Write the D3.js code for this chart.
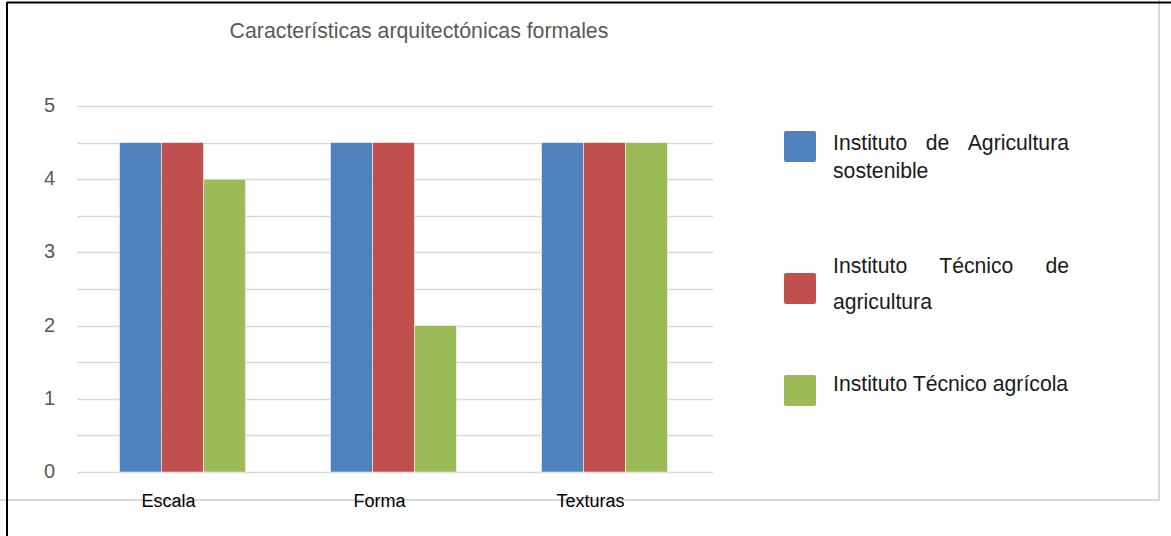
<!DOCTYPE html>
<html><head><meta charset="utf-8">
<script src="https://cdn.jsdelivr.net/npm/d3@7"></script>
<style>html,body{margin:0;padding:0;background:#fff;overflow:hidden}svg{display:block}text{font-family:"Liberation Sans",Arial,sans-serif}</style>
</head><body>
<svg id="c" width="1171" height="536"></svg>
<script>
const title = "Características arquitectónicas formales";
const categories = ["Escala", "Forma", "Texturas"];
const series = ["Instituto de Agricultura sostenible", "Instituto Técnico de agricultura", "Instituto Técnico agrícola"];
const valuesAgriculturaSostenible = [4.5, 4.5, 4.5];
const valuesTecnicoAgricultura = [4.5, 4.5, 4.5];
const valuesTecnicoAgricola = [4, 2, 4.5];
const yTicks = [0, 1, 2, 3, 4, 5];
const colors = ["#4F81BD", "#C0504D", "#9BBB59"];
// legend text lines (justified lines split into words)
const legendLines = [
  [{words:["Instituto","de","Agricultura"], justify:true},{words:["sostenible"]}],
  [{words:["Instituto","Técnico","de"], justify:true},{words:["agricultura"]}],
  [{words:["Instituto Técnico agrícola"]}]
];

const allValues = [valuesAgriculturaSostenible, valuesTecnicoAgricultura, valuesTecnicoAgricola];
const svg = d3.select("#c");

// chart area border (gray) and page border (black)
svg.append("rect").attr("x",-5).attr("y",-5).attr("width",1164).attr("height",505)
  .attr("fill","#fff").attr("stroke","#d9d9d9").attr("stroke-width",2);
svg.append("line").attr("x1",7).attr("x2",1171).attr("y1",2.5).attr("y2",2.5).attr("stroke","#000").attr("stroke-width",2);
svg.append("line").attr("x1",7).attr("x2",7).attr("y1",2).attr("y2",536).attr("stroke","#000").attr("stroke-width",2);

const plotL = 77, plotR = 713, plotT = 106, plotB = 472;
const y = d3.scaleLinear().domain([0,5]).range([plotB, plotT]);
const x0 = d3.scaleBand().domain(categories).range([plotL, plotR - 3]).padding(0);
const groupW = x0.bandwidth() * 0.597;
const x1 = d3.scaleBand().domain(series).range([(x0.bandwidth()-groupW)/2, (x0.bandwidth()+groupW)/2]);

// gridlines every 0.5
const grid = d3.range(0, 5.01, 0.5);
svg.append("g").selectAll("line").data(grid).join("line")
  .attr("x1", plotL).attr("x2", plotR)
  .attr("y1", d => Math.round(y(d))+0.5).attr("y2", d => Math.round(y(d))+0.5)
  .attr("stroke", "#d9d9d9").attr("stroke-width", 1.5);

// y axis labels
const yAxis = d3.axisLeft(y).tickValues(yTicks).tickSize(0).tickPadding(0).tickFormat(d3.format("d"));
const ya = svg.append("g").attr("transform", `translate(55,-1)`).call(yAxis);
ya.select(".domain").remove();
ya.selectAll("text").attr("font-size", 20).attr("fill", "#595959").attr("font-family", '"Liberation Sans",Arial,sans-serif');

// bars
const g = svg.append("g");
categories.forEach((c, ci) => {
  series.forEach((s, si) => {
    const v = allValues[si][ci];
    g.append("rect")
      .attr("x", x0(c) + x1(s))
      .attr("width", x1.bandwidth())
      .attr("y", y(v))
      .attr("height", y(0) - y(v))
      .attr("fill", colors[si])
      .attr("stroke", "#fff").attr("stroke-width", 0.5);
  });
});

// category labels
const xAxis = d3.axisBottom(x0).tickSize(0).tickPadding(0);
const xa = svg.append("g").attr("transform", `translate(-14,${plotB+22})`).call(xAxis);
xa.select(".domain").remove();
xa.selectAll("text").attr("font-size", 18).attr("fill", "#000").attr("font-family", '"Liberation Sans",Arial,sans-serif');

// title
svg.append("text").attr("x", 419).attr("y", 38).attr("text-anchor","middle")
  .attr("font-size", 21.3).attr("fill", "#595959").text(title);

// legend
const legSquareY = [131, 273, 375];
const legLineY = [[150, 178], [273, 309], [391]];
const lx = 833, rx = 1069, fs = 21.2;
series.forEach((s, i) => {
  svg.append("rect").attr("x", 784).attr("y", legSquareY[i]).attr("width", 32).attr("height", 31)
    .attr("rx", 2).attr("fill", colors[i]);
  legendLines[i].forEach((ln, li) => {
    const yy = legLineY[i][li];
    if (ln.justify) {
      const n = ln.words.length;
      ln.words.forEach((w, wi) => {
        const anchor = wi === 0 ? "start" : (wi === n-1 ? "end" : "middle");
        const t = svg.append("text").attr("y", yy).attr("font-size", fs).attr("fill", "#1a1a1a")
          .attr("text-anchor", anchor).text(w);
        if (wi === 0) t.attr("x", lx);
        else if (wi === n-1) t.attr("x", rx);
      });
    } else {
      svg.append("text").attr("x", lx).attr("y", yy).attr("font-size", fs).attr("fill", "#1a1a1a").text(ln.words.join(" "));
    }
  });
});
// position middle justified words evenly between neighbours
svg.selectAll("text").filter(function(){ return this.getAttribute("text-anchor")==="middle" && !this.hasAttribute("x"); })
  .each(function(){
    const yy = this.getAttribute("y");
    const sibs = svg.selectAll("text").filter(function(){ return this.getAttribute("y")===yy && this.getAttribute("x")!==null; }).nodes();
    let L = lx, R = rx;
    sibs.forEach(n => { const b = n.getBBox(); if (b.x < 900) L = b.x + b.width; else R = b.x; });
    d3.select(this).attr("x", (L + R) / 2);
  });
</script>
</body></html>
